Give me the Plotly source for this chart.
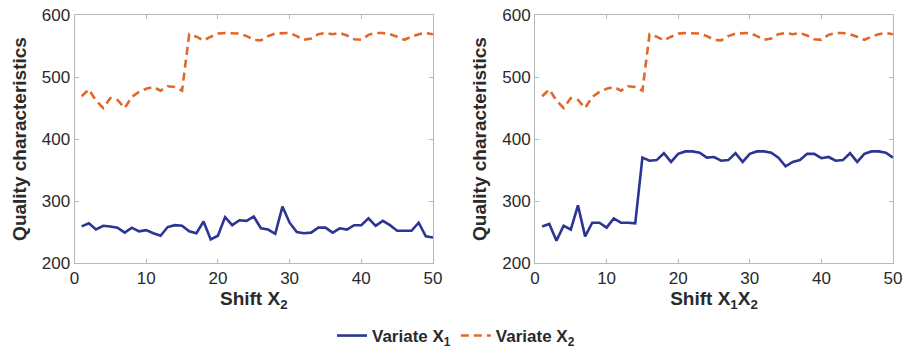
import plotly.graph_objects as go

shift = list(range(1, 51))

# Left panel (Shift X2)
left_x1 = [259, 264, 254, 260, 259, 257, 249, 257, 251, 253,
           248, 244, 258, 261, 260, 251, 248, 267, 238, 244,
           274, 261, 269, 268, 275, 256, 254, 247, 291, 265,
           250, 248, 249, 257, 257, 249, 256, 254, 261, 261,
           272, 260, 268, 261, 252, 252, 252, 265, 243, 241]
left_x2 = [469, 480, 462, 450, 466, 463, 450, 468, 476, 481,
           484, 478, 485, 484, 478, 569, 565, 559, 565, 570,
           571, 570, 570, 566, 560, 559, 566, 570, 570, 571,
           566, 560, 562, 569, 571, 569, 571, 567, 561, 560,
           568, 571, 571, 569, 565, 560, 565, 569, 571, 569]

# Right panel (Shift X1X2)
right_x1 = [259, 263, 236, 260, 254, 293, 243, 265, 265, 257,
            272, 265, 265, 264, 370, 365, 366, 377, 363, 376,
            380, 380, 378, 370, 371, 365, 366, 377, 363, 376,
            380, 380, 378, 370, 356, 363, 366, 376, 376, 369,
            371, 365, 366, 377, 363, 376, 380, 380, 378, 370]
right_x2 = left_x2

x_ticks = [0, 10, 20, 30, 40, 50]
y_ticks = [200, 300, 400, 500, 600]

BLUE = "#2b3592"
ORANGE = "#e2672b"
TXT = "#2a2a2a"
FONT = "Liberation Sans Narrow, Arial Narrow, Liberation Sans, Arial, sans-serif"

fig = go.Figure()
fig.add_trace(go.Scatter(x=shift, y=left_x1, mode="lines", name="<b>Variate X<sub>1</sub></b>",
                         line=dict(color=BLUE, width=2.6), xaxis="x", yaxis="y"))
fig.add_trace(go.Scatter(x=shift, y=left_x2, mode="lines", name="<b>Variate X<sub>2</sub></b>",
                         line=dict(color=ORANGE, width=2.6, dash="8px,5px"), xaxis="x", yaxis="y"))
fig.add_trace(go.Scatter(x=shift, y=right_x1, mode="lines", showlegend=False,
                         line=dict(color=BLUE, width=2.6), xaxis="x2", yaxis="y2"))
fig.add_trace(go.Scatter(x=shift, y=right_x2, mode="lines", showlegend=False,
                         line=dict(color=ORANGE, width=2.6, dash="8px,5px"), xaxis="x2", yaxis="y2"))

W, H = 911, 352
ydom = [(H - 263) / H, (H - 15) / H]

def xaxis(dom, title, anchor):
    return dict(domain=dom, range=[0, 50], tickvals=x_ticks, anchor=anchor, automargin=False,
                showline=True, linecolor="#b8b8b8", linewidth=1, mirror="ticks",
                ticks="inside", ticklen=4, tickcolor="#b8b8b8", showgrid=False, zeroline=False,
                tickprefix="<b>", ticksuffix="</b>", ticklabeloverflow="allow",
                tickfont=dict(size=17, color=TXT, family=FONT),
                title=dict(text=title, standoff=2, font=dict(size=19, color=TXT, family=FONT)))

def yaxis(anchor):
    return dict(domain=ydom, range=[200, 600], tickvals=y_ticks, anchor=anchor, automargin=False,
                showline=True, linecolor="#b8b8b8", linewidth=1, mirror="ticks",
                ticks="inside", ticklen=4, tickcolor="#b8b8b8", showgrid=False, zeroline=False,
                tickprefix="<b>", ticksuffix="</b>", ticklabeloverflow="allow",
                tickfont=dict(size=17, color=TXT, family=FONT),
                title=dict(text="<b>Quality characteristics</b>", standoff=10,
                           font=dict(size=19, color=TXT, family=FONT)))

fig.update_layout(
    width=W, height=H,
    margin=dict(l=0, r=0, t=0, b=0, autoexpand=False),
    paper_bgcolor="white", plot_bgcolor="white",
    font=dict(family=FONT, color=TXT),
    xaxis=xaxis([74.5 / W, 433 / W], "<b>Shift X<sub>2</sub></b>", "y"),
    yaxis=yaxis("x"),
    xaxis2=xaxis([535 / W, 893 / W], "<b>Shift X<sub>1</sub>X<sub>2</sub></b>", "y2"),
    yaxis2=yaxis("x2"),
    showlegend=True,
    hovermode=False,
    legend=dict(orientation="h", x=456 / W, xanchor="center", y=(H - 336) / H,
                yanchor="middle",
                font=dict(size=17, color=TXT, family=FONT), bgcolor="rgba(0,0,0,0)",
                itemwidth=30, tracegroupgap=0),
)

# remove the browser's default 8px body margin so the figure fills the window exactly
fig.write_html("out.html", config={"displayModeBar": False},
               post_script="document.body.style.margin='0';document.body.style.overflow='hidden';")
